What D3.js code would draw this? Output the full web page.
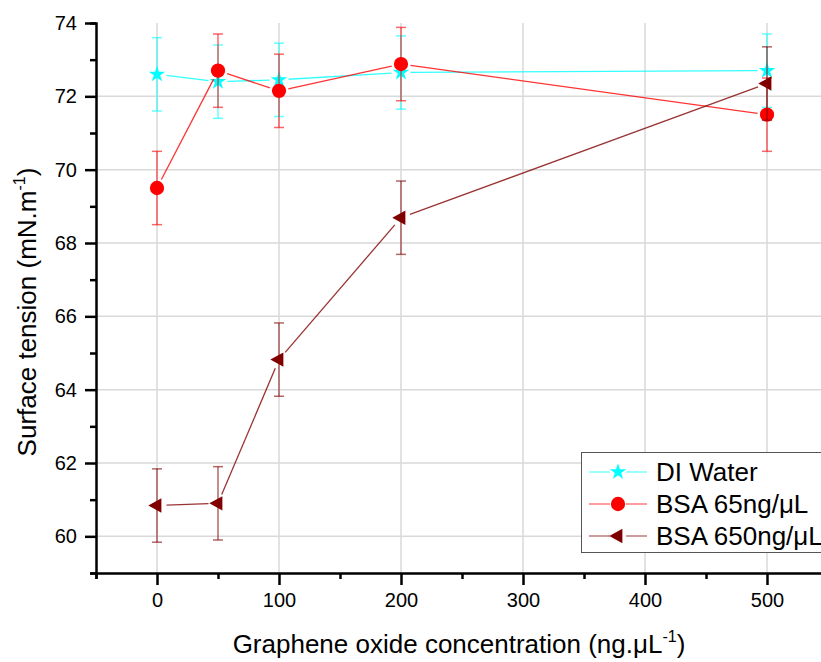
<!DOCTYPE html>
<html>
<head>
<meta charset="utf-8">
<script src="https://cdn.jsdelivr.net/npm/d3@7"></script>
<style>
  body { margin: 0; background: #fff; }
  svg { display: block; font-family: "Liberation Sans", Arial, sans-serif; }
</style>
</head>
<body>
<div id="chart"></div>
<script>
// 数据
const concentrations = [0, 50, 100, 200, 500];
const diWater = [72.6, 72.4, 72.45, 72.65, 72.7];
const diWaterErr = [1, 1, 1, 1, 1];
const bsa65 = [69.5, 72.7, 72.15, 72.88, 71.5];
const bsa65Err = [1, 1, 1, 1, 1];
const bsa650 = [60.84, 60.9, 64.82, 68.69, 72.35];
const bsa650Err = [1, 1, 1, 1, 1];
const seriesNames = ["DI Water", "BSA 65ng/\u03bcL", "BSA 650ng/\u03bcL"];
const xTicks = [0, 100, 200, 300, 400, 500];
const yTicks = [60, 62, 64, 66, 68, 70, 72, 74];

const width = 821, height = 662;
const fontFam = "Liberation Sans, Arial, sans-serif";

const svg = d3.select("#chart").append("svg")
    .attr("width", width)
    .attr("height", height);

const x = d3.scaleLinear().domain([-50, 550]).range([96, 828]);
const y = d3.scaleLinear().domain([59, 74]).range([573, 23]);

// 网格线
const grid = svg.append("g");
grid.selectAll(".vg").data(xTicks).join("line")
    .attr("x1", d => x(d)).attr("x2", d => x(d))
    .attr("y1", y(74)).attr("y2", y(59))
    .attr("stroke", "#d9d9d9").attr("stroke-width", 1.5);
grid.selectAll(".hg").data(yTicks.filter(d => d < 74)).join("line")
    .attr("x1", x(-50)).attr("x2", x(550))
    .attr("y1", d => y(d)).attr("y2", d => y(d))
    .attr("stroke", "#d9d9d9").attr("stroke-width", 1.5);

// 坐标轴
const xAxis = svg.append("g").attr("transform", `translate(0,${y(59)})`);
xAxis.call(d3.axisBottom(x).tickValues(d3.range(-50, 551, 50)).tickSize(6).tickFormat(""));
xAxis.call(g => g.selectAll(".tick").filter(d => d % 100 === 0).select("line").attr("y2", 12));
const xLabels = svg.append("g").attr("transform", `translate(0,${y(59)})`);
xLabels.call(d3.axisBottom(x).tickValues(xTicks).tickSize(0).tickPadding(20));
xLabels.select(".domain").remove();
xLabels.selectAll("text").attr("font-size", 20).attr("font-family", fontFam).attr("fill", "#000");

const yAxis = svg.append("g").attr("transform", `translate(${x(-50)},0)`);
yAxis.call(d3.axisLeft(y).tickValues(d3.range(59, 74.1, 1)).tickSize(6).tickFormat(""));
yAxis.call(g => g.selectAll(".tick").filter(d => d % 2 === 0).select("line").attr("x2", -11));
const yLabels = svg.append("g").attr("transform", `translate(${x(-50)},0)`);
yLabels.call(d3.axisLeft(y).tickValues(yTicks).tickSize(0).tickPadding(19));
yLabels.select(".domain").remove();
yLabels.selectAll("text").attr("font-size", 20).attr("font-family", fontFam).attr("fill", "#000");

[xAxis, yAxis].forEach(a => {
    a.select(".domain").attr("stroke", "#000").attr("stroke-width", 2.5);
    a.selectAll(".tick line").attr("stroke", "#000").attr("stroke-width", 2.5);
});

// 轴标题
const xTitle = svg.append("text")
    .attr("x", 459).attr("y", 653)
    .attr("text-anchor", "middle")
    .attr("font-size", 26)
    .text("Graphene oxide concentration (ng.\u03bcL");
xTitle.append("tspan").attr("dy", -11).attr("font-size", 16).text("-1");
xTitle.append("tspan").attr("dy", 11).text(")");

const yTitle = svg.append("text")
    .attr("transform", "translate(36,312) rotate(-90)")
    .attr("text-anchor", "middle")
    .attr("font-size", 26)
    .text("Surface tension (mN.m");
yTitle.append("tspan").attr("dy", -11).attr("font-size", 16).text("-1");
yTitle.append("tspan").attr("dy", 11).text(")");

// 符号
const starPath = d3.symbol(d3.symbolStar, 85)();
const circlePath = d3.symbol(d3.symbolCircle, 160)();
const triPath = "M-8.7,0L4.4,-7.2L4.4,7.2Z";

const series = [
    { name: seriesNames[0], values: diWater, err: diWaterErr, color: "#00ffff", shape: starPath },
    { name: seriesNames[1], values: bsa65, err: bsa65Err, color: "#ff0000", shape: circlePath },
    { name: seriesNames[2], values: bsa650, err: bsa650Err, color: "#800000", shape: triPath }
];

const gap = 9.5;
series.forEach(s => {
    const pts = concentrations.map((c, i) => ({ px: x(c), py: y(s.values[i]), e: s.err[i], v: s.values[i] }));
    const g = svg.append("g");

    // 误差线
    pts.forEach(p => {
        const top = y(p.v + p.e), bot = y(p.v - p.e);
        g.append("line").attr("x1", p.px).attr("x2", p.px).attr("y1", top).attr("y2", bot)
            .attr("stroke", s.color).attr("stroke-opacity", 0.6).attr("stroke-width", 1.5);
        [top, bot].forEach(yy => g.append("line")
            .attr("x1", p.px - 5).attr("x2", p.px + 5).attr("y1", yy).attr("y2", yy)
            .attr("stroke", s.color).attr("stroke-opacity", 0.6).attr("stroke-width", 1.5));
    });

    // 连接线（标记旁留空）
    for (let i = 0; i < pts.length - 1; i++) {
        const a = pts[i], b = pts[i + 1];
        const dx = b.px - a.px, dy = b.py - a.py;
        const len = Math.hypot(dx, dy);
        if (len <= 2 * gap) continue;
        const ux = dx / len, uy = dy / len;
        g.append("line")
            .attr("x1", a.px + ux * gap).attr("y1", a.py + uy * gap)
            .attr("x2", b.px - ux * gap).attr("y2", b.py - uy * gap)
            .attr("stroke", s.color).attr("stroke-opacity", 0.8).attr("stroke-width", 1.3);
    }

    g.selectAll(".m").data(pts).join("path")
        .attr("d", s.shape)
        .attr("transform", d => `translate(${d.px},${d.py})`)
        .attr("fill", s.color);
});

// 图例
const legend = svg.append("g");
legend.append("rect")
    .attr("x", 581.5).attr("y", 452.5).attr("width", 260).attr("height", 100)
    .attr("fill", "#fff").attr("stroke", "#555").attr("stroke-width", 1);
series.forEach((s, i) => {
    const ly = 472 + i * 32;
    legend.append("line").attr("x1", 589).attr("x2", 610).attr("y1", ly).attr("y2", ly)
        .attr("stroke", s.color).attr("stroke-opacity", 0.6).attr("stroke-width", 1.3);
    legend.append("line").attr("x1", 626).attr("x2", 647).attr("y1", ly).attr("y2", ly)
        .attr("stroke", s.color).attr("stroke-opacity", 0.6).attr("stroke-width", 1.3);
    legend.append("path").attr("d", s.shape)
        .attr("transform", `translate(618,${ly})`).attr("fill", s.color);
    legend.append("text").attr("x", 656).attr("y", ly + 9)
        .attr("font-size", 26).text(s.name);
});
</script>
</body>
</html>
